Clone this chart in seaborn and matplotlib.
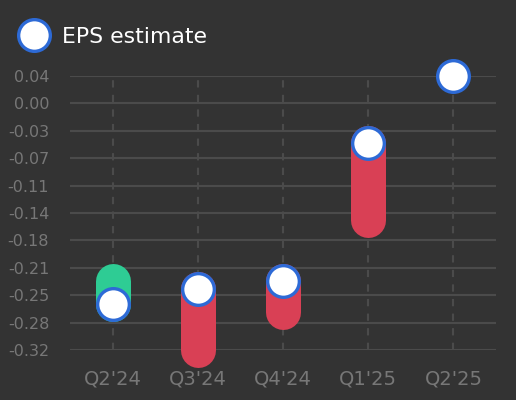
import numpy as np
import pandas as pd
import seaborn as sns
from matplotlib import pyplot as plt
from matplotlib.lines import Line2D

quarters = ["Q2'24", "Q3'24", "Q4'24", "Q1'25", "Q2'25"]
eps_estimate = [-0.26, -0.24, -0.23, -0.05, 0.038]
eps_actual = [-0.23, -0.32, -0.27, -0.15, np.nan]

BG = "#333333"
GRID = "#4b4b4b"
TICK = "#777777"
BEAT = "#2ecc94"
MISS = "#d94055"
EDGE = "#2d6ad6"


def main():
    sns.set_theme(style="dark", rc={
        "figure.facecolor": BG,
        "axes.facecolor": BG,
        "axes.edgecolor": BG,
        "grid.color": GRID,
    })
    plt.rcParams["font.family"] = ["DejaVu Sans"]

    df = pd.DataFrame({
        "quarter": quarters,
        "estimate": eps_estimate,
        "actual": eps_actual,
    })
    df["pos"] = np.arange(len(df))

    fig = plt.figure(figsize=(5.16, 4.0), dpi=100)
    ax = fig.add_axes([70 / 516, 50 / 400, 426 / 516, 274 / 400])

    # bars from estimate to actual, green when beat, red when missed
    has_actual = df.dropna(subset=["actual"])
    colors = [BEAT if a > e else MISS
              for a, e in zip(has_actual["actual"], has_actual["estimate"])]
    bars = ax.vlines(has_actual["pos"], has_actual["estimate"], has_actual["actual"],
                     colors=colors, linewidth=25.2, zorder=3)
    bars.set_capstyle("round")
    bars.set_clip_on(False)

    sns.scatterplot(data=df, x="pos", y="estimate", ax=ax, s=22.8 ** 2,
                    color="white", edgecolor=EDGE, linewidth=2.4,
                    zorder=4, clip_on=False, legend=False)

    lo = min(df["estimate"].min(), df["actual"].min())
    hi = max(df["estimate"].max(), df["actual"].max())
    ax.set_ylim(lo, hi)
    ax.set_xlim(-0.5, len(df) - 0.5)
    yticks = np.linspace(hi, lo, 11)
    ax.set_yticks(yticks)
    ax.set_yticklabels([f"{v:.2f}" for v in yticks])
    ax.set_xticks(df["pos"])
    ax.set_xticklabels(df["quarter"])

    ax.set_xlabel("")
    ax.set_ylabel("")
    ax.grid(axis="y", color=GRID, linewidth=1.5, linestyle="-")
    ax.grid(axis="x", color=GRID, linewidth=1.5, linestyle=(0, (3.5, 3.5)))
    ax.set_axisbelow(True)
    ax.tick_params(axis="y", length=0, pad=15, labelsize=11.5, labelcolor=TICK)
    ax.tick_params(axis="x", length=0, pad=14, labelsize=14, labelcolor=TICK)
    for side in ax.spines.values():
        side.set_visible(False)

    handle = Line2D([], [], marker="o", linestyle="", markersize=22.8,
                    markerfacecolor="white", markeredgecolor=EDGE,
                    markeredgewidth=2.4)
    leg = ax.legend(handles=[handle], labels=["EPS estimate"], loc="center left",
                    bbox_to_anchor=(7 / 516, 1 - 37 / 400),
                    bbox_transform=fig.transFigure, frameon=False, fontsize=15.8,
                    borderpad=0, handlelength=1.5, handletextpad=0.5)
    for t in leg.get_texts():
        t.set_color("white")

    fig.savefig("out.png", dpi=100, facecolor=BG)


if __name__ == "__main__":
    main()
